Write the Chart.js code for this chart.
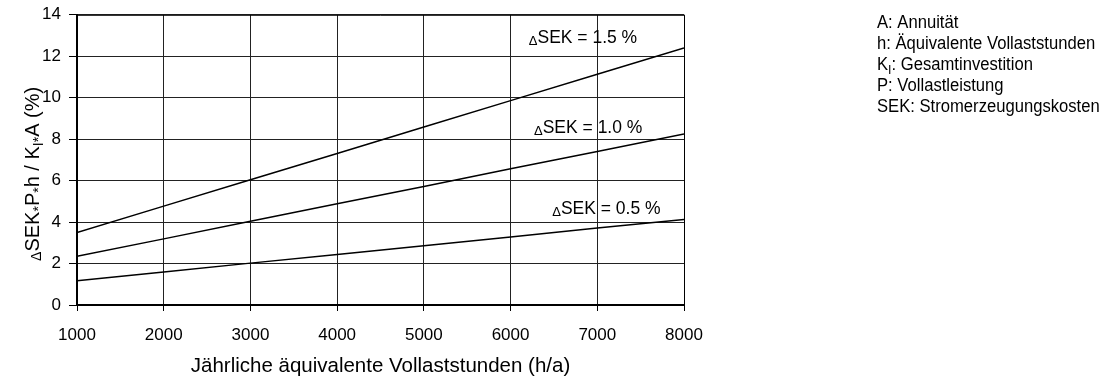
<!DOCTYPE html>
<html>
<head>
<meta charset="utf-8">
<script src="https://cdn.jsdelivr.net/npm/chart.js@4"></script>
<style>
  html, body { margin: 0; padding: 0; background: #fff; }
  #wrap { width: 1101px; height: 383px; position: relative; }
</style>
</head>
<body>
<div id="wrap"><canvas id="chart" width="1101" height="383"></canvas></div>
<script>
// Hours per year (x) and cost ratio values (y)
const hours = [1000, 2000, 3000, 4000, 5000, 6000, 7000, 8000];
const sek15 = [3.5, 4.77, 6.04, 7.31, 8.59, 9.86, 11.13, 12.4];
const sek10 = [2.35, 3.19, 4.04, 4.88, 5.72, 6.57, 7.41, 8.25];
const sek05 = [1.17, 1.59, 2.02, 2.44, 2.86, 3.28, 3.71, 4.13];
const seriesLabels = ['1.5 %', '1.0 %', '0.5 %'];
// where each curve label sits (right edge, in data units)
const labelX = [7460, 7520, 7730];
const labelY = [12.65, 8.3, 4.4];

const legendLines = [
  [['A: Annuität']],
  [['h: Äquivalente Vollaststunden']],
  [['K'], ['I', 'sub'], [': Gesamtinvestition']],
  [['P: Vollastleistung']],
  [['SEK: Stromerzeugungskosten']]
];

const FONT = '"Liberation Sans", Arial, sans-serif';

const toPts = vals => vals.map((v, i) => ({ x: hours[i], y: v }));

// draws a run of text pieces: [text, kind] kind = 'sub' | 'small' | undefined
function drawRich(ctx, parts, x, y, size, align, sx) {
  sx = sx || 1;
  const fontFor = k => (k ? Math.round(size * 0.72) : size) + 'px ' + FONT;
  let total = 0;
  parts.forEach(p => { ctx.font = fontFor(p[1]); total += ctx.measureText(p[0]).width; });
  let cx = align === 'center' ? -total / 2 : align === 'right' ? -total : 0;
  ctx.save();
  ctx.translate(x, y);
  ctx.scale(sx, 1);
  ctx.textAlign = 'left';
  ctx.textBaseline = 'alphabetic';
  parts.forEach(p => {
    ctx.font = fontFor(p[1]);
    const dy = p[1] === 'sub' ? size * 0.22 : p[1] === 'small' ? size * 0.1 : 0;
    ctx.fillText(p[0], cx, dy);
    cx += ctx.measureText(p[0]).width;
  });
  ctx.restore();
}

const extras = {
  id: 'extras',
  afterDraw(chart) {
    const ctx = chart.ctx;
    const xs = chart.scales.x, ys = chart.scales.y;
    const a = chart.chartArea;
    ctx.save();
    ctx.fillStyle = '#000';

    // curve labels
    seriesLabels.forEach((t, i) => {
      const px = xs.getPixelForValue(labelX[i]);
      const py = ys.getPixelForValue(labelY[i]);
      drawRich(ctx, [['Δ', 'small'], ['SEK = ' + t]], px, py, 17.5, 'right');
    });

    // y axis title
    ctx.save();
    ctx.translate(39, (a.top + a.bottom) / 2 + 14);
    ctx.rotate(-Math.PI / 2);
    drawRich(ctx, [['Δ', 'small'], ['SEK'], ['*', 'sub'], ['P'], ['*', 'sub'], ['h / K'], ['I', 'sub'], ['*', 'sub'], ['A (%)']], 0, 0, 20, 'center');
    ctx.restore();

    // x axis title
    drawRich(ctx, [['Jährliche äquivalente Vollaststunden (h/a)']], (a.left + a.right) / 2, 372, 20.5, 'center');

    // right-side legend
    legendLines.forEach((parts, i) => {
      drawRich(ctx, parts, 877, 28 + i * 21, 17.5, 'left', 0.95);
    });

    // frame
    ctx.strokeStyle = '#000';
    ctx.lineWidth = 1;
    ctx.beginPath();
    ctx.moveTo(a.left, a.top + 0.5);
    ctx.lineTo(a.right + 0.5, a.top + 0.5);
    ctx.lineTo(a.right + 0.5, a.bottom);
    ctx.stroke();
    ctx.restore();
  }
};

const lineStyle = { borderColor: '#000', borderWidth: 1.5, pointRadius: 0, fill: false, tension: 0 };

new Chart(document.getElementById('chart').getContext('2d'), {
  type: 'line',
  data: {
    datasets: [
      Object.assign({ label: 'ΔSEK = 1.5 %', data: toPts(sek15) }, lineStyle),
      Object.assign({ label: 'ΔSEK = 1.0 %', data: toPts(sek10) }, lineStyle),
      Object.assign({ label: 'ΔSEK = 0.5 %', data: toPts(sek05) }, lineStyle)
    ]
  },
  options: {
    responsive: false,
    animation: false,
    layout: { padding: { left: 0, right: 417, top: 14, bottom: 0 } },
    plugins: { legend: { display: false }, tooltip: { enabled: false } },
    scales: {
      x: {
        type: 'linear',
        min: 1000, max: 8000,
        ticks: {
          stepSize: 1000,
          color: '#000',
          font: { family: FONT, size: 17 },
          padding: 14,
          maxRotation: 0,
          callback: v => String(v)
        },
        grid: { color: '#222', lineWidth: 1, tickLength: 6, tickColor: '#000' },
        border: { color: '#000', width: 2 },
        afterFit: s => { s.height = 78; }
      },
      y: {
        min: 0, max: 14,
        ticks: {
          stepSize: 2,
          color: '#000',
          font: { family: FONT, size: 17, lineHeight: 0.8 },
          padding: 8
        },
        grid: { color: '#222', lineWidth: 1, tickLength: 8, tickColor: '#000' },
        border: { color: '#000', width: 2 },
        afterFit: s => { s.width = 77; }
      }
    }
  },
  plugins: [extras]
});
</script>
</body>
</html>
